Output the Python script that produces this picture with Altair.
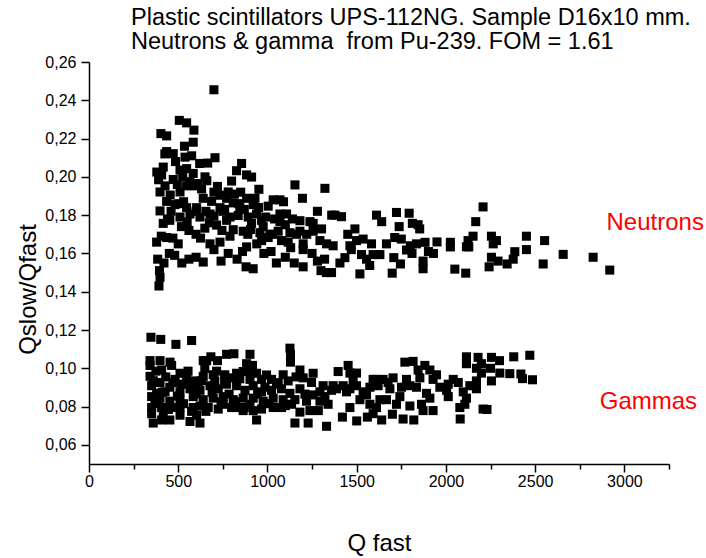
import altair as alt
import pandas as pd

# ---- data ----
neutron_x = [700, 506, 547, 588, 403, 435, 584, 435, 472, 538, 706, 665, 855, 827, 883, 911, 952, 1154, 1322, 1196,
             1032, 1070, 1004, 1070, 1107, 1182, 1238, 1303, 1256, 1126, 1116, 1200, 1294, 1331, 379, 435, 500, 678, 734, 883,
             967, 1004, 976, 398, 416, 453, 518, 649, 715, 771, 836, 892, 864, 808, 920, 883, 799, 780, 734, 687,
             631, 584, 547, 510, 416, 407, 398, 426, 472, 510, 547, 594, 640, 603, 547, 482, 435, 510, 566, 622,
             678, 734, 771, 808, 845, 930, 939, 911, 967, 1070, 1182, 1060, 1014, 958, 1079, 1163, 1256,
             390, 455, 495, 530, 565, 610, 655, 700, 745, 790, 560, 600, 470, 440, 525, 620, 660, 700, 750, 850,
             890, 940, 1040, 1100, 1140, 1220, 1280, 1360,
             392, 398, 395, 385, 420, 450, 480, 520, 560, 600, 640, 700, 780, 830, 880, 920, 980, 1050, 1100, 1150,
             1200, 1250, 1300, 1330, 1200, 1320, 740, 1020, 860, 1280,
             1378, 1415, 1611, 1640, 1723, 1794, 1738, 1812, 1844, 1853, 2208, 2167, 2152, 2124, 2115, 2255, 2283, 2265,
             2451, 2553, 2451, 2386, 2377, 2255, 2292, 2242, 2343, 2545, 2657, 2825, 2918, 2050, 2111, 2025, 2025, 2128,
             1872, 1699, 1708, 1745, 1810, 1801, 1883, 1902, 1872, 1573, 1518, 1434, 1406, 1368, 1359, 1462, 1499, 1536,
             1583, 1630, 1592, 1667, 1713, 1490, 1527, 1555, 1750, 1835, 1779, 1950, 1930, 1450, 1470,
             380, 405, 425, 460, 485, 505, 535, 550, 575, 600, 625, 650, 675, 720, 760, 790, 815, 840, 870, 905,
             950, 990, 1030, 1090, 1130]
neutron_y = [0.2455, 0.2295, 0.2282, 0.2244, 0.2226, 0.2214, 0.2181, 0.2132, 0.2121, 0.2103, 0.2100, 0.2072, 0.2070,
             0.2032, 0.2010, 0.1999, 0.1935, 0.1958, 0.1940, 0.1888, 0.1880, 0.1880, 0.1847, 0.1806, 0.1806, 0.1771,
             0.1766, 0.1728, 0.1716, 0.1708, 0.1659, 0.1650, 0.1667, 0.1650, 0.1659, 0.1683, 0.1650, 0.1650, 0.1659,
             0.1634, 0.1667, 0.1683, 0.1740, 0.1822, 0.1757, 0.1773, 0.1740, 0.1732, 0.1748, 0.1773, 0.1798, 0.1790,
             0.1716, 0.1724, 0.1855, 0.1888, 0.1978, 0.1921, 0.1904, 0.1872, 0.1937, 0.2018, 0.2043, 0.2035, 0.2051,
             0.2010, 0.1921, 0.1953, 0.1986, 0.1921, 0.1953, 0.1953, 0.1888, 0.1839, 0.1839, 0.1855, 0.1872, 0.1790,
             0.1806, 0.1790, 0.1806, 0.1839, 0.1888, 0.1864, 0.1839, 0.1888, 0.1806, 0.1757, 0.1773, 0.1766, 0.1716,
             0.1716, 0.1700, 0.1708, 0.1667, 0.1700, 0.1757,
             0.1985, 0.1905, 0.1960, 0.1870, 0.1975, 0.1965, 0.1820, 0.1795, 0.1720, 0.1690, 0.1720, 0.1700, 0.1680,
             0.1780, 0.2000, 0.2070, 0.1980, 0.1920, 0.1820, 0.1920, 0.1700, 0.1650, 0.1780, 0.1750, 0.1780, 0.1700,
             0.1820, 0.1800,
             0.1430, 0.1475, 0.1510, 0.1570, 0.1550, 0.1600, 0.1590, 0.1550, 0.1570, 0.1580, 0.1555, 0.1620, 0.1600,
             0.1570, 0.1530, 0.1520, 0.1600, 0.1550, 0.1580, 0.1550, 0.1530, 0.1600, 0.1510, 0.1500, 0.1620, 0.1570,
             0.1560, 0.1610, 0.1610, 0.1560,
             0.1800, 0.1792, 0.1800, 0.1766, 0.1814, 0.1810, 0.1740, 0.1757, 0.1750, 0.1728, 0.1843, 0.1766, 0.1690,
             0.1667, 0.1635, 0.1690, 0.1667, 0.1650, 0.1690, 0.1667, 0.1620, 0.1609, 0.1570, 0.1580, 0.1560, 0.1530,
             0.1545, 0.1545, 0.1595, 0.1580, 0.1513, 0.1518, 0.1497, 0.1658, 0.1634, 0.1634, 0.1520, 0.1497, 0.1578,
             0.1545, 0.1600, 0.1640, 0.1658, 0.1610, 0.1560, 0.1537, 0.1493, 0.1578, 0.1550, 0.1640, 0.1500, 0.1640,
             0.1667, 0.1675, 0.1650, 0.1594, 0.1594, 0.1650, 0.1683, 0.1728, 0.1594, 0.1570, 0.1675, 0.1650, 0.1618,
             0.1660, 0.1600, 0.1700, 0.1620,
             0.2025, 0.1690, 0.2120, 0.1820, 0.2080, 0.1860, 0.2160, 0.1765, 0.2110, 0.1820, 0.1680, 0.2000, 0.1760,
             0.1950, 0.1830, 0.1790, 0.1910, 0.1860, 0.1830, 0.1725, 0.1840, 0.1790, 0.1700, 0.1870, 0.1630]

gamma_x = [347, 402, 487, 575, 342, 398, 342, 454, 640, 683, 720, 771, 812, 902, 1126, 1129, 1129, 916, 640, 696,
           761, 827, 864, 1182, 1256, 1088, 1023, 939, 407, 463, 510, 547, 594, 351, 398, 453, 510, 566, 622, 678,
           724, 771, 827, 874, 920, 967, 1023, 1079, 1126, 1182, 1247, 1312, 351, 398, 453, 510, 584, 640, 696, 752,
           808, 864, 920, 976, 1032, 1088, 1154, 1219, 1294, 1340, 351, 407, 510, 584, 668, 724, 799, 864, 967, 1079,
           1182, 1238, 1285, 360, 407, 453, 566, 622, 939, 1154, 1228, 1331, 351, 416, 510, 603, 342, 370, 379, 426,
           482, 519, 566, 612, 463, 622, 752, 827, 902, 920, 1032, 1135, 1256, 1322, 649, 705, 799, 902, 967, 986,
           1051, 1116, 1200, 1294, 659, 883,
           2115, 2180, 2255, 2470, 2199, 2171, 2199, 2302, 2358, 2429, 2485, 2255, 2171, 2171, 2097, 2115, 2106, 2208,
           2078, 2069, 2041, 2013, 1966, 1928, 1910, 1882, 1947, 1816, 1770, 1798, 1835, 1891, 1910, 1863, 1872, 1928,
           1798, 1751, 1704, 1676, 1686, 1620, 1592, 1574, 1630, 1667, 1742, 1723, 1536, 1499, 1480, 1518, 1462, 1443,
           1424, 1387, 1359, 1462, 1452, 1396, 1499, 1368, 1611, 1592, 1462, 1574, 1555, 1648, 1611, 1779, 1854, 2013,
           2004, 2134, 1844, 2115,
           1420, 1500, 1560, 1640, 1700, 1760, 1820, 2080, 2230, 2380, 2300, 2250, 2420,
           360, 375, 390, 410, 430, 445, 470, 495, 530, 555, 575, 600, 630, 655, 690, 715, 740, 760, 785, 820,
           845, 870, 895, 945, 995, 1010, 1060, 1100, 1160, 1210]
gamma_y = [0.1162, 0.1151, 0.1125, 0.1145, 0.1040, 0.1040, 0.1015, 0.1032, 0.1040, 0.1060, 0.1040, 0.1073, 0.1076,
           0.1073, 0.1105, 0.1073, 0.1032, 0.1015, 0.0958, 0.0966, 0.0966, 0.0974, 0.0983, 0.0991, 0.0974, 0.0966,
           0.0942, 0.0974, 0.0991, 0.1015, 0.0974, 0.0942, 0.0934, 0.0909, 0.0926, 0.0901, 0.0877, 0.0893, 0.0885,
           0.0909, 0.0893, 0.0917, 0.0909, 0.0885, 0.0909, 0.0877, 0.0885, 0.0893, 0.0869, 0.0893, 0.0926, 0.0909,
           0.0852, 0.0844, 0.0828, 0.0836, 0.0852, 0.0836, 0.0844, 0.0852, 0.0836, 0.0844, 0.0844, 0.0828, 0.0844,
           0.0836, 0.0836, 0.0828, 0.0828, 0.0812, 0.0795, 0.0795, 0.0795, 0.0795, 0.0795, 0.0787, 0.0795, 0.0779,
           0.0787, 0.0795, 0.0771, 0.0779, 0.0779, 0.0714, 0.0730, 0.0730, 0.0722, 0.0714, 0.0730, 0.0714, 0.0714,
           0.0697, 0.0763, 0.0755, 0.0755, 0.0755, 0.0958, 0.0828, 0.0869, 0.0877, 0.0942, 0.0917, 0.0917, 0.0909,
           0.0795, 0.0803, 0.0812, 0.0795, 0.0812, 0.0779, 0.0795, 0.0812, 0.0861, 0.0852, 0.0999, 0.0934, 0.0950,
           0.0942, 0.0942, 0.0901, 0.0917, 0.0934, 0.0950, 0.0877, 0.1040, 0.1024,
           0.1060, 0.1057, 0.1057, 0.1068, 0.1024, 0.1000, 0.0975, 0.0975, 0.0972, 0.0946, 0.0940, 0.0934, 0.0934,
           0.0893, 0.0877, 0.0844, 0.0812, 0.0787, 0.0795, 0.0926, 0.0942, 0.0917, 0.0901, 0.0942, 0.0991, 0.1015,
           0.0966, 0.1036, 0.1032, 0.0909, 0.0901, 0.0869, 0.0844, 0.0812, 0.0779, 0.0779, 0.0803, 0.0901, 0.0950,
           0.0926, 0.0893, 0.0909, 0.0942, 0.0901, 0.0836, 0.0836, 0.0852, 0.0812, 0.0877, 0.0909, 0.0934, 0.0836,
           0.0893, 0.0877, 0.0909, 0.0893, 0.0885, 0.0975, 0.1015, 0.0983, 0.0975, 0.0909, 0.0795, 0.0763, 0.0795,
           0.0812, 0.0861, 0.0942, 0.0942, 0.0942, 0.0950, 0.0852, 0.0885, 0.0909, 0.0991, 0.1024,
           0.0745, 0.0725, 0.0745, 0.0730, 0.0760, 0.0735, 0.0730, 0.0735, 0.0785, 0.1060, 0.1040, 0.1000, 0.0970,
           0.0935, 0.0985, 0.0815, 0.0875, 0.0955, 0.0785, 0.0925, 0.0855, 0.0815, 0.0985, 0.0775, 0.0865, 0.0935,
           0.0775, 0.0875, 0.0985, 0.0825, 0.0935, 0.0865, 0.0825, 0.0945, 0.0795, 0.0985, 0.0865, 0.0965, 0.0815,
           0.0925, 0.0805, 0.0955, 0.0865]

label_text = ["Neutrons", "Gammas"]
label_x = [2900, 2862]
label_y = [0.1758, 0.0826]

x_tick_values = [0, 250, 500, 750, 1000, 1250, 1500, 1750, 2000, 2250, 2500, 2750, 3000, 3250]
y_tick_values = [0.06, 0.07, 0.08, 0.09, 0.10, 0.11, 0.12, 0.13, 0.14, 0.15, 0.16,
                 0.17, 0.18, 0.19, 0.20, 0.21, 0.22, 0.23, 0.24, 0.25, 0.26]
title_lines = ["Plastic scintillators UPS-112NG. Sample D16x10 mm.",
               "Neutrons & gamma \u00a0from Pu-239. FOM = 1.61"]

FONT = "Liberation Sans"
PLOT_H = 402

points = pd.DataFrame({
    "q": neutron_x + gamma_x,
    "r": neutron_y + gamma_y,
})
labels = pd.DataFrame({"q": label_x, "r": label_y, "t": label_text})

x_enc = alt.X(
    "q:Q",
    scale=alt.Scale(domain=[0, 3250], nice=False, zero=False),
    axis=alt.Axis(
        values=x_tick_values,
        title="Q fast",
        format="d",
        labelExpr="datum.value % 500 === 0 ? datum.label : ''",
        tickSize={"condition": {"test": "datum.value % 500 === 0", "value": 8}, "value": 5},
        labelFontSize=16,
        titleFontSize=24,
        labelPadding=1,
        titlePadding=42,
        labelFlush=False,
        labelOverlap=False,
    ),
)
y_enc = alt.Y(
    "r:Q",
    scale=alt.Scale(domain=[0.05, 0.26], nice=False, zero=False),
    axis=alt.Axis(
        values=y_tick_values,
        title="Qslow/Qfast",
        labelExpr="round(datum.value*100) % 2 === 0 ? replace(format(datum.value, '.2f'), '.', ',') : ''",
        tickSize={"condition": {"test": "round(datum.value*100) % 2 === 0", "value": 8}, "value": 5},
        labelFontSize=16,
        titleFontSize=24,
        labelPadding=5,
        titlePadding=4,
        titleY=227,
        labelFlush=False,
        labelOverlap=False,
    ),
)

scatter = alt.Chart(points).mark_square(size=82, color="black", opacity=1, filled=True).encode(
    x=x_enc, y=y_enc
)
text = alt.Chart(labels).mark_text(
    align="left", baseline="middle", color="#ff0000", fontSize=24, font=FONT
).encode(x="q:Q", y="r:Q", text="t:N")

chart = (
    alt.layer(scatter, text)
    .properties(
        width=580,
        height=PLOT_H,
        autosize=alt.AutoSizeParams(type="none"),
        padding={"left": 89, "top": 62, "right": 37, "bottom": 558 - 62 - PLOT_H},
        title=alt.TitleParams(
            text=title_lines,
            anchor="start",
            frame="group",
            dx=42,
            offset=1,
            fontSize=23.5,
            lineHeight=24,
            font=FONT,
            fontWeight="normal",
            color="black",
        ),
    )
    .configure_view(stroke=None)
    .configure_axis(
        grid=False,
        domainColor="black",
        domainWidth=1.5,
        tickColor="black",
        tickWidth=1.5,
        labelColor="black",
        titleColor="black",
        labelFont=FONT,
        titleFont=FONT,
        titleFontWeight="normal",
    )
)

chart.save("out.html", embed_options={"renderer": "svg", "actions": False})
